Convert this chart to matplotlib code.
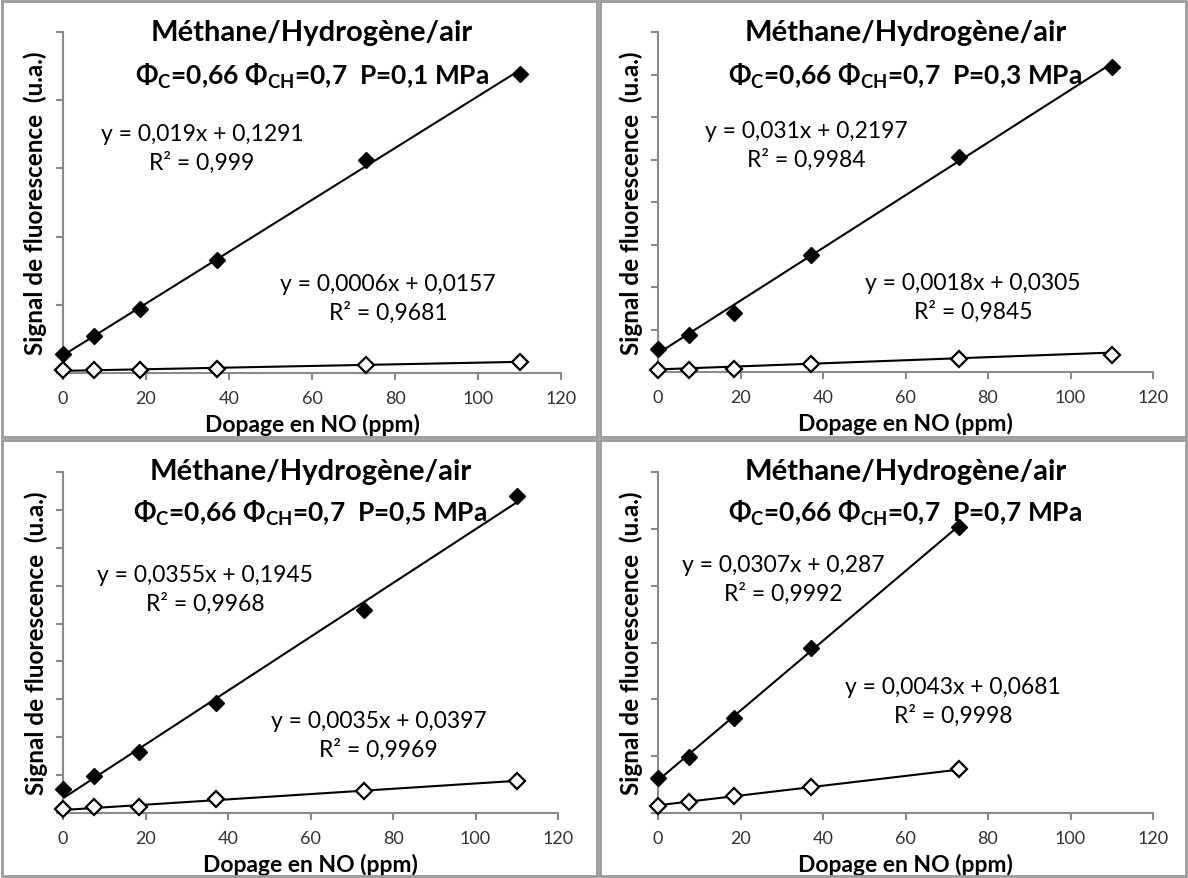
import numpy as np
import matplotlib
matplotlib.use("Agg")
import matplotlib.pyplot as plt
from matplotlib.patches import Rectangle

plt.rcParams['font.family'] = ['Lato', 'DejaVu Sans']
plt.rcParams['mathtext.fontset'] = 'custom'
plt.rcParams['mathtext.rm'] = 'Lato'
plt.rcParams['mathtext.bf'] = 'Lato:bold'

# data
pressures = ['0,1', '0,3', '0,5', '0,7']
x_full = [0, 7.5, 18.5, 37, 73, 110]
x_short = [0, 7.5, 18.5, 37, 73]
xs = [x_full, x_full, x_full, x_short]

filled = [
    [0.139, 0.27, 0.47, 0.83, 1.56, 2.19],
    [0.27, 0.435, 0.69, 1.38, 2.53, 3.59],
    [0.32, 0.49, 0.80, 1.45, 2.68, 4.18],
    [0.31, 0.49, 0.84, 1.45, 2.52],
]
opened = [
    [0.02, 0.02, 0.025, 0.03, 0.06, 0.08],
    [0.024, 0.024, 0.035, 0.09, 0.15, 0.20],
    [0.05, 0.08, 0.08, 0.18, 0.29, 0.42],
    [0.06, 0.097, 0.15, 0.23, 0.39],
]
# trend line coefficients (slope, intercept) as printed on the chart
fit_filled = [(0.019, 0.1291), (0.031, 0.2197), (0.0355, 0.1945), (0.0307, 0.287)]
fit_open = [(0.0006, 0.0157), (0.0018, 0.0305), (0.0035, 0.0397), (0.0043, 0.0681)]
eq_filled = ['y = 0,019x + 0,1291\nR² = 0,999', 'y = 0,031x + 0,2197\nR² = 0,9984',
             'y = 0,0355x + 0,1945\nR² = 0,9968', 'y = 0,0307x + 0,287\nR² = 0,9992']
eq_open = ['y = 0,0006x + 0,0157\nR² = 0,9681', 'y = 0,0018x + 0,0305\nR² = 0,9845',
           'y = 0,0035x + 0,0397\nR² = 0,9969', 'y = 0,0043x + 0,0681\nR² = 0,9998']
ymax = [2.5, 4.0, 4.5, 3.0]

# layout in pixels (left, right, bottom, top)
W, H = 1188, 879
boxes = [(63, 561, 374, 33), (658, 1153, 373, 33), (63, 558, 814, 473), (658, 1153, 814, 473)]
eq1_pos = [(0.279, 0.66), (0.299, 0.668), (0.287, 0.657), (0.253, 0.686)]
eq2_pos = [(0.653, 0.22), (0.636, 0.22), (0.638, 0.229), (0.596, 0.328)]
title_y = [(1.0, 0.874), (1.0, 0.874), (1.003, 0.883), (1.003, 0.883)]
frames = [(2, 2, 597, 438), (600, 2, 1186, 438), (2, 441, 597, 877), (600, 441, 1186, 877)]

fig = plt.figure(figsize=(W / 100, H / 100), dpi=100)

for x0, y0, x1, y1 in frames:
    fig.patches.append(Rectangle((x0 / W, 1 - y1 / H), (x1 - x0) / W, (y1 - y0) / H,
                                 transform=fig.transFigure, fill=False,
                                 edgecolor='#9a9a9a', lw=2))

for i in range(4):
    l, r, b, t = boxes[i]
    ax = fig.add_axes([l / W, 1 - b / H, (r - l) / W, (b - t) / H])
    x = np.array(xs[i])
    a, c = fit_filled[i]
    xx = np.array([x.min(), x.max()])
    ax.plot(xx, a * xx + c, color='black', lw=1.5, zorder=2)
    a, c = fit_open[i]
    ax.plot(xx, a * xx + c, color='black', lw=1.5, zorder=2)
    ax.plot(x, filled[i], 'D', color='black', ms=8, zorder=3, clip_on=False)
    ax.plot(x, opened[i], 'D', mfc='white', mec='black', mew=1.6, ms=8, zorder=3, clip_on=False)

    ax.set_xlim(0, 120)
    ax.set_ylim(0, ymax[i])
    ax.set_xticks(np.arange(0, 121, 20))
    ax.set_yticks(np.arange(0, ymax[i] + 0.01, 0.5))
    ax.set_yticklabels([])
    for s in ['top', 'right']:
        ax.spines[s].set_visible(False)
    for s in ['left', 'bottom']:
        ax.spines[s].set_color('#8a8a8a')
        ax.spines[s].set_linewidth(1.5)
    ax.tick_params(direction='out', length=5, width=1.5, color='#8a8a8a',
                   labelsize=13, labelcolor='#333333', pad=7)

    ax.set_xlabel('Dopage en NO (ppm)', fontsize=16.5, fontweight='bold')
    ax.xaxis.label.set_va('center')
    ax.xaxis.set_label_coords(0.5, -0.15)
    ax.set_ylabel('Signal de fluorescence  (u.a.)', fontsize=17.5, fontweight='bold')
    ax.yaxis.label.set_va('center')
    ax.yaxis.set_label_coords(-0.055, 0.5)

    ax.text(0.5, title_y[i][0], 'Méthane/Hydrogène/air', transform=ax.transAxes,
            ha='center', va='center', fontsize=21, fontweight='bold')
    ax.text(0.5, title_y[i][1], 'Φ$_\\mathbf{C}$=0,66 Φ$_\\mathbf{CH}$=0,7  P=' + pressures[i] + ' MPa',
            transform=ax.transAxes, ha='center', va='center', fontsize=19, fontweight='bold')

    ax.text(*eq1_pos[i], eq_filled[i], transform=ax.transAxes, ha='center', va='center',
            fontsize=16.5, linespacing=1.35)
    ax.text(*eq2_pos[i], eq_open[i], transform=ax.transAxes, ha='center', va='center',
            fontsize=16.5, linespacing=1.35)

fig.savefig('out.png', dpi=100)
